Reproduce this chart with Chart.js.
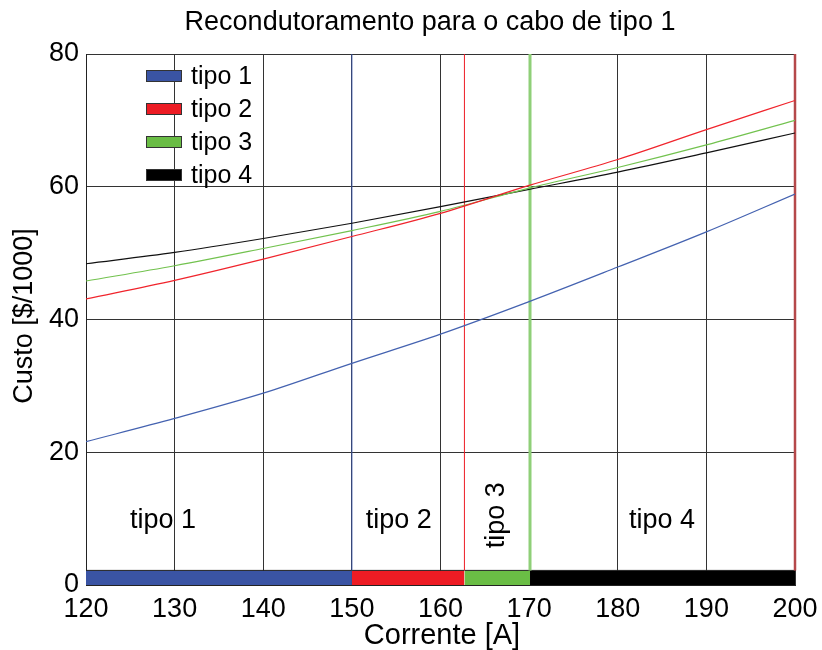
<!DOCTYPE html>
<html>
<head>
<meta charset="utf-8">
<script src="https://cdn.jsdelivr.net/npm/chart.js@4.4.0/dist/chart.umd.min.js"></script>
<style>
  html, body { margin: 0; padding: 0; background: #fff; }
</style>
</head>
<body>
<canvas id="grafico" width="822" height="650"></canvas>
<script>
// --- dados ---
const corrente = [120, 130, 140, 150, 160, 170, 180, 190, 200];
const custoTipo1 = [21.6, 25.1, 28.9, 33.4, 37.8, 42.7, 47.9, 53.2, 58.9];
const custoTipo2 = [43.1, 45.9, 49.1, 52.5, 56.0, 60.2, 64.1, 68.6, 73.0];
const custoTipo3 = [45.8, 48.1, 50.7, 53.4, 56.3, 59.8, 62.9, 66.3, 70.0];
const custoTipo4 = [48.4, 50.1, 52.2, 54.5, 57.0, 59.6, 62.2, 65.1, 68.1];

const nomesTipos = ['tipo 1', 'tipo 2', 'tipo 3', 'tipo 4'];
const coresTipos = ['#3a54a4', '#ed1c24', '#6abd45', '#000000'];
const coresLinhas = ['#4462b0', '#f0242c', '#72c24e', '#111111'];

// faixas onde cada cabo é o mais barato (barra no rodapé)
const limitesFaixas = [120, 150, 162.7, 170.1, 200];
const alturaFaixa = 2.2;
const coresDivisas = ['#3a54a4', '#ed1c24', '#8fcf78', '#b5484a'];
const largurasDivisas = [1, 1, 3, 2.5];

// rótulos das faixas
const rotulosFaixaX = [128.7, 155.3, 166.3, 185.0];
const rotulosFaixaY = [9.7, 9.7, 10.5, 9.7];

const ticksX = [120, 130, 140, 150, 160, 170, 180, 190, 200];
const ticksY = [0, 20, 40, 60, 80];

const FONTE = '"Liberation Sans", Arial, Helvetica, sans-serif';

function pontos(xs, ys) {
    return xs.map((x, i) => ({ x: x, y: ys[i] }));
}

const series = [custoTipo1, custoTipo2, custoTipo3, custoTipo4];
const datasets = [];

// curvas de custo (ficam por cima)
series.forEach((s, i) => {
    datasets.push({
        label: nomesTipos[i],
        data: pontos(corrente, s),
        borderColor: coresLinhas[i],
        borderWidth: 1.2,
        pointRadius: 0,
        cubicInterpolationMode: 'monotone',
        fill: false
    });
});

// linhas verticais nas divisas
for (let i = 1; i < limitesFaixas.length; i++) {
    const xv = limitesFaixas[i];
    datasets.push({
        label: 'divisa' + i,
        data: [{ x: xv, y: alturaFaixa }, { x: xv, y: 80 }],
        borderColor: coresDivisas[i - 1],
        borderWidth: largurasDivisas[i - 1],
        pointRadius: 0,
        fill: false,
        clip: false
    });
}

// barra colorida no rodapé
for (let i = 0; i < 4; i++) {
    datasets.push({
        label: 'faixa' + (i + 1),
        data: [{ x: limitesFaixas[i], y: alturaFaixa }, { x: limitesFaixas[i + 1], y: alturaFaixa }],
        borderColor: '#222',
        borderWidth: 1,
        backgroundColor: coresTipos[i],
        pointRadius: 0,
        fill: 'origin'
    });
}

// textos: título, eixos, rótulos das faixas e legenda
const textosPlugin = {
    id: 'textos',
    afterDraw(chart) {
        const ctx = chart.ctx;
        const sx = chart.scales.x, sy = chart.scales.y;
        const area = chart.chartArea;
        ctx.save();
        ctx.fillStyle = '#000';
        ctx.textAlign = 'center';
        ctx.textBaseline = 'middle';

        ctx.font = '27px ' + FONTE;
        ctx.fillText('Recondutoramento para o cabo de tipo 1', 430, 23);

        ctx.font = '29px ' + FONTE;
        ctx.fillText('Corrente [A]', 442, 636);
        ctx.font = '27px ' + FONTE;
        ctx.save();
        ctx.translate(25, 316);
        ctx.rotate(-Math.PI / 2);
        ctx.fillText('Custo [$/1000]', 0, 0);
        ctx.restore();

        ctx.font = '27px ' + FONTE;
        nomesTipos.forEach((nome, i) => {
            const px = sx.getPixelForValue(rotulosFaixaX[i]);
            const py = sy.getPixelForValue(rotulosFaixaY[i]);
            if (i === 2) {
                ctx.save();
                ctx.translate(px, py);
                ctx.rotate(-Math.PI / 2);
                ctx.fillText(nome, 0, 0);
                ctx.restore();
            } else {
                ctx.fillText(nome, px, py);
            }
        });

        // legenda
        ctx.font = '25px ' + FONTE;
        ctx.textAlign = 'left';
        nomesTipos.forEach((nome, i) => {
            const cy = area.top + 22 + i * 33;
            ctx.fillStyle = coresTipos[i];
            ctx.fillRect(area.left + 60, cy - 6, 36, 12);
            ctx.strokeStyle = '#333';
            ctx.lineWidth = 1;
            ctx.strokeRect(area.left + 60.5, cy - 5.5, 35, 11);
            ctx.fillStyle = '#000';
            ctx.fillText(nome, area.left + 105, cy + 1);
        });
        ctx.restore();
    }
};

new Chart(document.getElementById('grafico'), {
    type: 'line',
    data: { datasets: datasets },
    options: {
        responsive: false,
        animation: false,
        layout: { padding: { left: 0, right: 27, top: 54, bottom: 0 } },
        plugins: {
            legend: { display: false },
            title: { display: false },
            tooltip: { enabled: false }
        },
        scales: {
            x: {
                type: 'linear',
                min: 120,
                max: 200,
                afterBuildTicks: (scale) => { scale.ticks = ticksX.map(v => ({ value: v })); },
                afterFit: (scale) => {
                    scale.height = 65;
                    // o rótulo "200" pode passar da borda, como no original
                    scale.paddingLeft = 0;
                    scale.paddingRight = 0;
                },
                grid: { color: '#333', lineWidth: 1, drawTicks: false },
                border: { color: '#222', width: 1 },
                ticks: { color: '#000', padding: 8, font: { family: FONTE, size: 27 }, maxRotation: 0 }
            },
            y: {
                min: 0,
                max: 80,
                afterBuildTicks: (scale) => { scale.ticks = ticksY.map(v => ({ value: v })); },
                afterFit: (scale) => {
                    scale.width = 86;
                    scale.paddingTop = 0;
                    scale.paddingBottom = 0;
                },
                grid: { color: '#333', lineWidth: 1, drawTicks: false },
                border: { color: '#222', width: 1 },
                ticks: { color: '#000', padding: 7, font: { family: FONTE, size: 27 } }
            }
        }
    },
    plugins: [textosPlugin]
});
</script>
</body>
</html>
